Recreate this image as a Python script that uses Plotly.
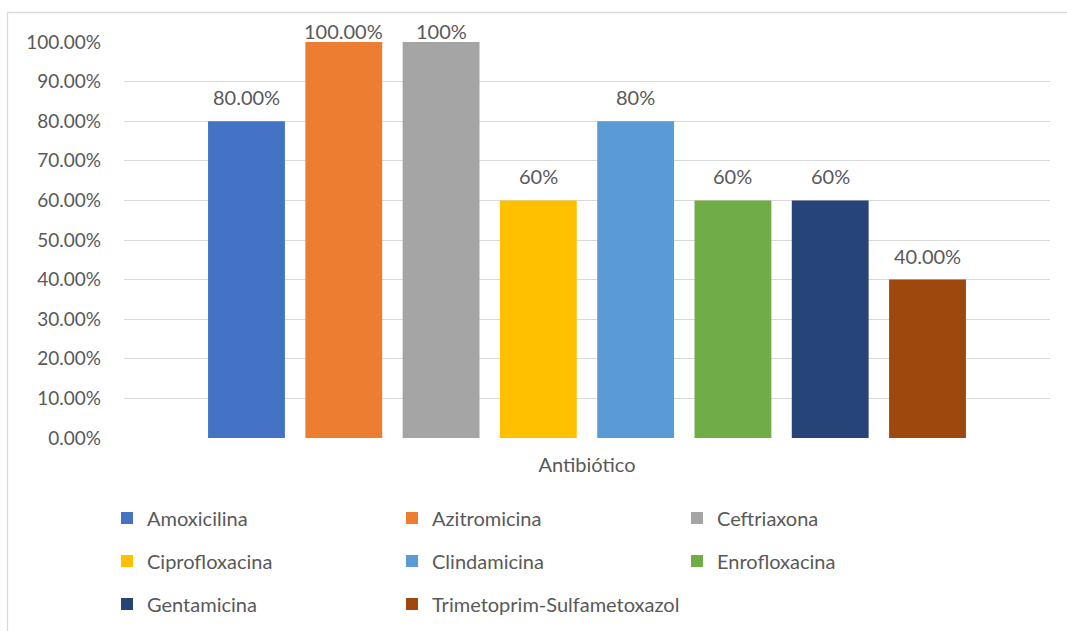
import plotly.graph_objects as go

# Susceptibility rate per antibiotic
antibiotics = ["Amoxicilina", "Azitromicina", "Ceftriaxona", "Ciprofloxacina",
               "Clindamicina", "Enrofloxacina", "Gentamicina",
               "Trimetoprim-Sulfametoxazol"]
rates = [0.80, 1.00, 1.00, 0.60, 0.80, 0.60, 0.60, 0.40]
rate_labels = ["80.00%", "100.00%", "100%", "60%", "80%", "60%", "60%", "40.00%"]
colors = ["#4472C4", "#ED7D31", "#A5A5A5", "#FFC000",
          "#5B9BD5", "#70AD47", "#264478", "#9E480E"]
y_ticks = [0, 0.1, 0.2, 0.3, 0.4, 0.5, 0.6, 0.7, 0.8, 0.9, 1.0]

FONT = "Lato, Carlito, Calibri, sans-serif"
TXT = "#595959"
GRID = "#D9D9D9"

W, H = 1067, 631
L, R, T, B = 124, 17, 42, 193

fig = go.Figure()

# legend layout: rows of three entries; the long last entry gets its own legend
legend_of = ["legend", "legend", "legend",
             "legend2", "legend2", "legend2",
             "legend3", "legend4"]
for i, (name, val, col) in enumerate(zip(antibiotics, rates, colors)):
    fig.add_trace(go.Bar(
        x=[i], y=[val], name=name, width=0.79,
        marker=dict(color=col, line=dict(width=0)),
        legend=legend_of[i],
        hovertemplate=name + ": %{y:.2%}<extra></extra>",
    ))

# value labels above the bars (kept inside the frame at the top)
for i, (val, lab) in enumerate(zip(rates, rate_labels)):
    fig.add_annotation(
        x=i, y=val, text=lab, showarrow=False, yanchor="middle",
        yshift=11 if val >= 1 else 24,
        font=dict(family=FONT, size=20, color=TXT),
    )

# outer chart frame
plot_w = W - L - R
plot_h = H - T - B
fig.add_shape(
    type="rect", xref="paper", yref="paper", layer="below",
    x0=(7.5 - L) / plot_w, x1=(W + 5 - L) / plot_w,
    y0=-(H + 5 - (H - B)) / plot_h, y1=1 + (T - 12.5) / plot_h,
    line=dict(color=GRID, width=1.3), fillcolor="rgba(0,0,0,0)",
)

col_step = 285
legend_common = dict(
    orientation="h", xref="container", yref="container",
    xanchor="left", yanchor="middle",
    entrywidth=col_step - 45, entrywidthmode="pixels",
    font=dict(family=FONT, size=20, color=TXT),
    bgcolor="rgba(0,0,0,0)", traceorder="normal",
    itemclick=False, itemdoubleclick=False,
)
x0 = 107
legends = {
    "legend": dict(legend_common, x=x0 / W, y=1 - 518 / H),
    "legend2": dict(legend_common, x=x0 / W, y=1 - 561 / H),
    "legend3": dict(legend_common, x=x0 / W, y=1 - 604 / H),
    "legend4": dict(legend_common, x=(x0 + col_step) / W, y=1 - 604 / H,
                    entrywidth=0),
}

fig.update_layout(
    width=W, height=H,
    margin=dict(l=L, r=R, t=T, b=B),
    paper_bgcolor="white", plot_bgcolor="white",
    font=dict(family=FONT, size=20, color=TXT),
    barmode="overlay",
    showlegend=True,
    xaxis=dict(
        range=[-1.259, 8.259], showticklabels=False, showgrid=False,
        zeroline=False, showline=False, ticks="", fixedrange=True,
        title=dict(text="Antibiótico", standoff=19,
                   font=dict(family=FONT, size=20, color=TXT)),
    ),
    yaxis=dict(
        range=[0, 1], tickvals=y_ticks, tickformat=".2%",
        showgrid=True, gridcolor=GRID, gridwidth=1.3,
        zeroline=False, showline=False, ticks="",
        ticklabelstandoff=22, fixedrange=True,
        tickfont=dict(family=FONT, size=19, color=TXT),
    ),
    **legends,
)

fig.write_html("out.html")
